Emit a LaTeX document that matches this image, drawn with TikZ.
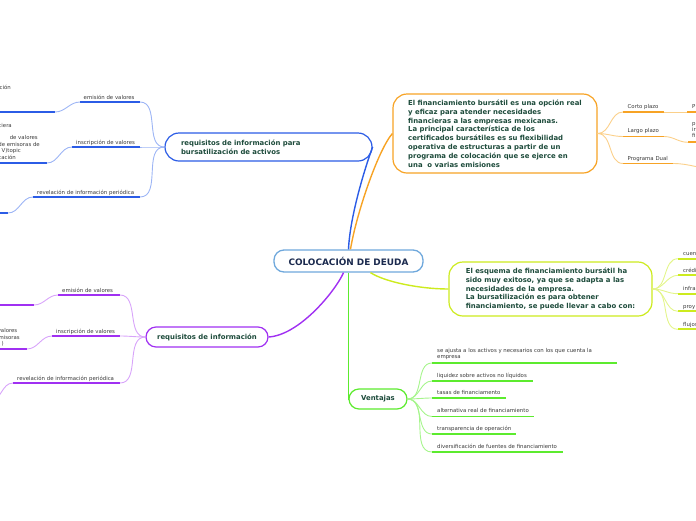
\documentclass[tikz,border=0pt]{standalone}
\usepackage{fontspec}
\setmainfont{DejaVu Sans}
\definecolor{rootC}{HTML}{6FA8DC}
\definecolor{rootT}{HTML}{1B2A4E}
\definecolor{boxT}{HTML}{1D4B3B}
\definecolor{lblT}{HTML}{3A3A3A}
\definecolor{blueC}{HTML}{2B5CE6}
\definecolor{blueL}{HTML}{9DB5F5}
\definecolor{orangeC}{HTML}{F7A325}
\definecolor{orangeL}{HTML}{FBD08A}
\definecolor{purpleC}{HTML}{A030F2}
\definecolor{purpleL}{HTML}{D8A4FA}
\definecolor{greenC}{HTML}{5CEB2E}
\definecolor{greenL}{HTML}{A6F58C}
\definecolor{limeC}{HTML}{CDEB1E}
\definecolor{limeL}{HTML}{E3F58A}
\begin{document}
\begin{tikzpicture}[x=1pt,y=-1pt,
  rootbox/.style={draw=rootC, line width=1.3pt, rounded corners=10pt, minimum width=149pt, minimum height=22pt, inner sep=0pt, fill=white, text=rootT, font=\fontsize{8.9}{10}\selectfont\bfseries},
  topicbox/.style={line width=1.2pt, inner sep=0pt, fill=white, text=boxT, align=left, font=\fontsize{6.9}{8.8}\selectfont\bfseries},
  lbl/.style={anchor=base west, inner sep=0pt, text=lblT, align=left, font=\fontsize{5.4}{6.8}\selectfont},
  frag/.style={anchor=base east, inner sep=0pt, text=lblT, font=\fontsize{5.4}{6.8}\selectfont},
  uline/.style={line width=1.8pt},
  conn/.style={line width=0.9pt},
  mainconn/.style={line width=1.4pt}]
\useasboundingbox (0,0) rectangle (696,520);
\clip (0,0) rectangle (696,520);

% ---------- main nodes ----------
\node[rootbox] (root) at (348.5,261) {COLOCACIÓN DE DEUDA};
\node[topicbox, draw=orangeC, minimum width=204pt, minimum height=79pt, rounded corners=14pt] (fin) at (495,133.5)
 {El financiamiento bursátil es una opción real\\
  y eficaz para atender necesidades\\
  financieras a las empresas mexicanas.\\
  La principal característica de los\\
  certificados bursátiles es su flexibilidad\\
  operativa de estructuras a partir de un\\
  programa de colocación que se ejerce en\\
  una\ \ o varias emisiones};
\node[topicbox, draw=blueC, minimum width=207pt, minimum height=28pt, text width=175pt, rounded corners=14pt] (reqa) at (268.5,147)
 {requisitos de información para\\bursatilización de activos};
\node[topicbox, draw=purpleC, minimum width=122pt, minimum height=20pt, rounded corners=10pt] (req) at (207,337) {requisitos de información};
\node[topicbox, draw=greenC, minimum width=58pt, minimum height=20pt, rounded corners=10pt] (vent) at (378,399) {Ventajas};
\node[topicbox, draw=limeC, minimum width=203pt, minimum height=54pt, rounded corners=14pt] (esq) at (550.5,289)
 {El esquema de financiamiento bursátil ha\\
  sido muy exitoso, ya que se adapta a las\\
  necesidades de la empresa.\\
  La bursatilización es para obtener\\
  financiamiento, se puede llevar a cabo con:};

% ---------- main connectors ----------
\draw[mainconn,blueC] (root.north) .. controls (350,215) and (366,165) .. (reqa.east);
\draw[mainconn,orangeC] ([xshift=2pt]root.north) .. controls (356,215) and (378,150) .. (fin.west);
\draw[mainconn,purpleC] ([xshift=-5pt]root.south) .. controls (336,290) and (300,335) .. (req.east);
\draw[mainconn,greenC] (root.south) |- (vent.west);
\draw[mainconn,limeC] ([xshift=22pt]root.south) .. controls (385,282) and (420,289) .. (esq.west);

% ---------- blue branches ----------
\coordinate (b1s) at (80,102);  \coordinate (b1e) at (140,102);
\coordinate (b2s) at (72,147);  \coordinate (b2e) at (140,147);
\coordinate (b3s) at (33,197);  \coordinate (b3e) at (140,197);
\draw[uline,blueC] (b1s) -- (b1e);
\draw[uline,blueC] (b2s) -- (b2e);
\draw[uline,blueC] (b3s) -- (b3e);
\node[lbl] (b1) at (83.5,99) {emisión de valores};
\node[lbl] (b2) at (76,144) {inscripción de valores};
\node[lbl] (b3) at (37,194) {revelación de información periódica};
\draw[conn,blueL] (reqa.west) to[out=180,in=0] (b1e);
\draw[conn,blueL] (reqa.west) to[out=180,in=0] (b2e);
\draw[conn,blueL] (reqa.west) to[out=180,in=0] (b3e);

\coordinate (g1s) at (-5,112); \coordinate (g1e) at (55,112);
\coordinate (g2s) at (-5,163); \coordinate (g2e) at (47,163);
\coordinate (g3s) at (-5,213); \coordinate (g3e) at (8,213);
\draw[uline,blueC] (g1s) -- (g1e);
\draw[uline,blueC] (g2s) -- (g2e);
\draw[uline,blueC] (g3s) -- (g3e);
\draw[conn,blueL] (b1s) to[out=180,in=0] (g1e);
\draw[conn,blueL] (b2s) to[out=180,in=0] (g2e);
\draw[conn,blueL] (b3s) to[out=180,in=0] (g3e);
\node[frag] (g1a) at (11,89) {ción};
\node[frag] (g2a) at (12,127) {ciera};
\node[frag] (g2b) at (38,139.3) {de valores};
\node[frag] (g2c) at (40,146) {de emisoras de};
\node[frag] (g2d) at (21,152.7) {V)topic};
\node[frag] (g2e2) at (16,159.2) {ocación};

% ---------- purple branches ----------
\coordinate (p1s) at (58,295);  \coordinate (p1e) at (120,295);
\coordinate (p2s) at (52,336);  \coordinate (p2e) at (120,336);
\coordinate (p3s) at (13,383);  \coordinate (p3e) at (120,383);
\draw[uline,purpleC] (p1s) -- (p1e);
\draw[uline,purpleC] (p2s) -- (p2e);
\draw[uline,purpleC] (p3s) -- (p3e);
\node[lbl] (p1) at (62,292) {emisión de valores};
\node[lbl] (p2) at (56,333) {inscripción de valores};
\node[lbl] (p3) at (17,380) {revelación de información periódica};
\draw[conn,purpleL] (req.west) to[out=180,in=0] (p1e);
\draw[conn,purpleL] (req.west) to[out=180,in=0] (p2e);
\draw[conn,purpleL] (req.west) to[out=180,in=0] (p3e);

\coordinate (q1s) at (-5,305); \coordinate (q1e) at (34,305);
\coordinate (q2s) at (-5,349); \coordinate (q2e) at (27,349);
\coordinate (q3e) at (-10,401);
\draw[uline,purpleC] (q1s) -- (q1e);
\draw[uline,purpleC] (q2s) -- (q2e);
\draw[conn,purpleL] (p1s) to[out=180,in=0] (q1e);
\draw[conn,purpleL] (p2s) to[out=180,in=0] (q2e);
\draw[conn,purpleL] (p3s) to[out=180,in=0] (q3e);
\node[frag] (q2a) at (17.5,332) {valores};
\node[frag] (q2b) at (20,339) {misoras};
\node[frag] (q2c) at (4,345.5) {)};

% ---------- orange branches ----------
\coordinate (o1s) at (623,112);   \coordinate (o1e) at (664,112);
\coordinate (o2s) at (623,136.5); \coordinate (o2e) at (664,136.5);
\coordinate (o3s) at (623,163.5); \coordinate (o3e) at (673,163.5);
\draw[uline,orangeC] (o1s) -- (o1e);
\draw[uline,orangeC] (o2s) -- (o2e);
\draw[uline,orangeC] (o3s) -- (o3e);
\node[lbl] (o1) at (627.5,108) {Corto plazo};
\node[lbl] (o2) at (627.5,132.5) {Largo plazo};
\node[lbl] (o3) at (627.5,160) {Programa Dual};
\draw[conn,orangeL] (fin.east) to[out=0,in=180] (o1s);
\draw[conn,orangeL] (fin.east) to[out=0,in=180] (o2s);
\draw[conn,orangeL] (fin.east) to[out=0,in=180] (o3s);

\coordinate (r1s) at (687,112);   \coordinate (r1e) at (710,112);
\coordinate (r2s) at (688,142.3); \coordinate (r2e) at (710,142.3);
\coordinate (r3e) at (716,169);
\draw[uline,orangeC] (r1s) -- (r1e);
\draw[uline,orangeC] (r2s) -- (r2e);
\draw[conn,orangeL] (o1e) -- (r1s);
\draw[conn,orangeL] (o2e) to[out=0,in=180] (r2s);
\draw[conn,orangeL] (o3e) to[out=0,in=180] (r3e);
\node[lbl] (r1) at (692,108) {P};
\node[lbl, font=\fontsize{5.4}{6.2}\selectfont] (r2) at (692,137.5) {p\\ir\\fi};

% ---------- lime branches ----------
\foreach \n/\uy/\t in {1/258.7/cuen, 2/275.3/crédi, 3/293.7/infra, 4/311.3/proy, 5/329.3/flujos}{
  \coordinate (l\n s) at (678,\uy);
  \coordinate (l\n e) at (710,\uy);
  \draw[uline,limeC] (l\n s) -- (l\n e);
  \draw[conn,limeL] (esq.east) to[out=0,in=180] (l\n s);
  \node[lbl] (l\n) at (683,\uy-3.2) {\t};
}

% ---------- Ventajas branches ----------
\coordinate (v1s) at (432,363);   \coordinate (v1e) at (617,363);
\coordinate (v2s) at (432,381);   \coordinate (v2e) at (533,381);
\coordinate (v3s) at (432,398);   \coordinate (v3e) at (506,398);
\coordinate (v4s) at (432,416.5); \coordinate (v4e) at (534,416.5);
\coordinate (v5s) at (432,434);   \coordinate (v5e) at (516,434);
\coordinate (v6s) at (432,452);   \coordinate (v6e) at (563,452);
\foreach \n in {1,...,6}{
  \draw[uline,greenC] (v\n s) -- (v\n e);
  \draw[conn,greenL] (vent.east) to[out=0,in=180] (v\n s);
}
\node[lbl] (v1) at (437,358.8) {se ajusta a los activos y necesarios con los que cuenta la\\empresa};
\node[lbl] (v2) at (437,377.3) {liquidez sobre activos no líquidos};
\node[lbl] (v3) at (437,394.5) {tasas de financiamento};
\node[lbl] (v4) at (437,412.8) {alternativa real de financiamiento};
\node[lbl] (v5) at (437,430.5) {transparencia de operación};
\node[lbl] (v6) at (437,448.5) {diversificación de fuentes de financiamiento};
\end{tikzpicture}
\end{document}
